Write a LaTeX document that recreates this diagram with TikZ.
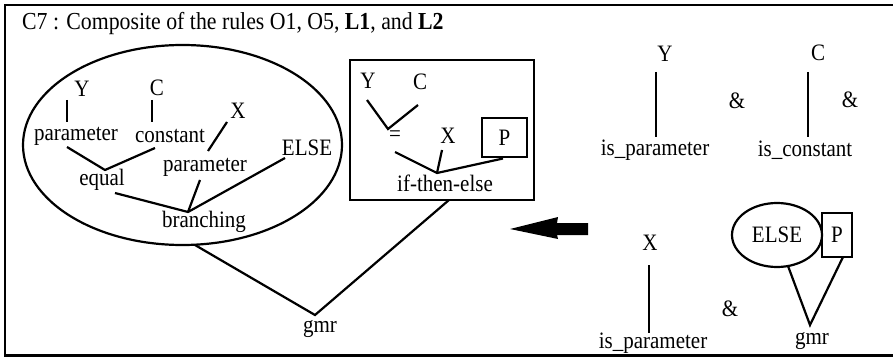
\documentclass[tikz,border=0pt]{standalone}
\usepackage{fontspec}
\usepackage{graphicx}
\setmainfont{Liberation Serif}
\usetikzlibrary{shapes.geometric}
\newcommand\tl[1]{\scalebox{1}[1.12]{#1}}
\tikzset{
  lbl/.style={inner sep=0pt, font=\fontsize{21}{21}\selectfont},
  ttl/.style={inner sep=0pt, anchor=west, font=\fontsize{21.8}{22}\selectfont},
  ln/.style={line width=2.2pt},
  frame/.style={line width=2.4pt},
  oval/.style={draw, ellipse, line width=2.2pt, inner sep=0pt},
  pbox/.style={draw, rectangle, line width=2pt, inner sep=0pt, font=\fontsize{21}{21}\selectfont},
}
\begin{document}
\begin{tikzpicture}[x=1pt,y=-1pt]
\useasboundingbox (0,0) rectangle (893,358);
% outer frame
\draw[frame] (893,5) -- (5,5) -- (5,355.5) -- (893,355.5);
\node[ttl] (title) at (22,24) {\tl{C7 : Composite of the rules O1, O5, \textbf{L1}, and \textbf{L2}}};

% big ellipse
\node[oval, minimum width=319pt, minimum height=200pt] (big) at (182.5,145) {};
\node[lbl] (Y1) at (82,89) {\tl{Y}};
\node[lbl] (C1) at (157,88) {\tl{C}};
\node[lbl] (par1) at (76,136) {\tl{parameter}};
\node[lbl] (con1) at (170,136) {\tl{constant}};
\node[lbl] (X1) at (238,111) {\tl{X}};
\node[lbl] (par2) at (205,167) {\tl{parameter}};
\node[lbl] (else1) at (307,148) {\tl{ELSE}};
\node[lbl] (eq1) at (102,180) {\tl{equal}};
\node[lbl] (br1) at (204,222) {\tl{branching}};
\coordinate (y1t) at (67,100); \coordinate (y1b) at (67,122);
\coordinate (c1t) at (152,100); \coordinate (c1b) at (152,122);
\coordinate (eqj) at (105,170);
\coordinate (p1s) at (67,147); \coordinate (c1s) at (155,148);
\coordinate (x1a) at (227,122); \coordinate (x1b) at (208,151);
\coordinate (brj) at (188,212);
\coordinate (eqs) at (115,193);
\coordinate (p2s) at (200,180);
\coordinate (els) at (285,158);
\draw[ln] (y1t) -- (y1b);
\draw[ln] (c1t) -- (c1b);
\draw[ln] (p1s) -- (eqj) -- (c1s);
\draw[ln] (x1a) -- (x1b);
\draw[ln] (eqs) -- (brj) -- (els);
\draw[ln] (p2s) -- (brj);

% middle box
\node[draw, rectangle, line width=2pt, minimum width=184pt, minimum height=140pt, inner sep=0pt] (mid) at (442,130) {};
\node[lbl] (Y2) at (368,81) {\tl{Y}};
\node[lbl] (C2) at (420,82) {\tl{C}};
\node[lbl] (eq2) at (395,136) {\tl{=}};
\node[lbl] (X2) at (448,136) {\tl{X}};
\node[pbox, minimum width=45pt, minimum height=39pt] (P2) at (504.5,137.5) {\tl{P}};
\node[lbl] (ite) at (445,183) {\tl{if-then-else}};
\coordinate (y2s) at (367,100); \coordinate (c2s) at (418,105); \coordinate (eqj2) at (388,129);
\draw[ln] (y2s) -- (eqj2) -- (c2s);
\coordinate (eqs2) at (395,152); \coordinate (itej) at (437,173);
\coordinate (x2s) at (442,150);
\coordinate (p2b) at (503,158.5);
\draw[ln] (eqs2) -- (itej) -- (p2b);
\draw[ln] (x2s) -- (itej);

% gmr
\node[lbl] (gmr1) at (320,329) {\tl{gmr}};
\coordinate (gj) at (315,315);
\coordinate (bigb) at (195,245);
\coordinate (midb) at (449,200);
\draw[ln] (bigb) -- (gj) -- (midb);

% big arrow
\fill (510,229) -- (558,217) -- (557,223) -- (588,223) -- (588,235) -- (557,235) -- (558,239) -- cycle;

% right side top
\node[lbl] (Y3) at (665,54) {\tl{Y}};
\node[lbl] (isp1) at (655,150) {\tl{is\_parameter}};
\node[lbl] (amp1) at (737,101) {\tl{\&}};
\node[lbl] (C3) at (818,53) {\tl{C}};
\node[lbl] (isc) at (805,150) {\tl{is\_constant}};
\node[lbl] (amp2) at (850,100) {\tl{\&}};
\draw[ln] (656,72) coordinate (y3a) -- (656,137) coordinate (y3b);
\draw[ln] (808,72) coordinate (c3a) -- (808,137) coordinate (c3b);

% right side bottom
\node[lbl] (X3) at (650,243) {\tl{X}};
\node[lbl] (isp2) at (653,343) {\tl{is\_parameter}};
\draw[ln] (649,265) coordinate (x3a) -- (649,333) coordinate (x3b);
\node[lbl] (amp3) at (730,309) {\tl{\&}};
\node[oval, minimum width=90pt, minimum height=64pt] (else2) at (777,235) {};
\node[lbl] at (else2.center) {\tl{ELSE}};
\node[pbox, minimum width=30pt, minimum height=44pt] (P3) at (837,235) {\tl{P}};
\node[lbl] (gmr2) at (812,341) {\tl{gmr}};
\coordinate (gj2) at (810,325);
\coordinate (e2b) at (788,266);
\coordinate (p3b) at (843,257);
\draw[ln] (e2b) -- (gj2) -- (p3b);
\end{tikzpicture}
\end{document}
